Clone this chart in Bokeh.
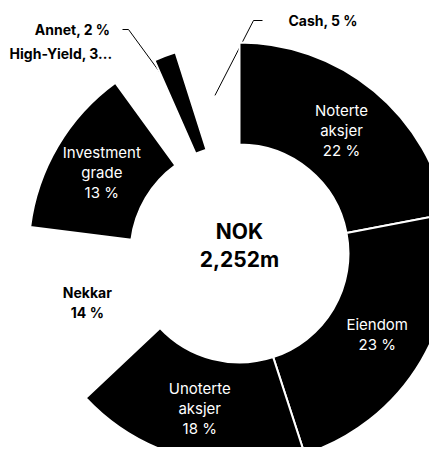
import numpy as np
from bokeh.plotting import figure
from bokeh.models import ColumnDataSource, Range1d
from bokeh.embed import file_html
from bokeh.resources import INLINE
from bokeh.core.properties import value

# ---- data ----
categories = ["Noterte aksjer", "Eiendom", "Unoterte aksjer", "Nekkar",
              "Investment grade", "High-Yield", "Annet", "Cash"]
shares = [22, 23, 18, 14, 13, 3.4, 1.7, 4.9]
colors = ["black", "black", "black", "white", "black", "white", "black", "white"]
inside_label = [True, True, True, True, True, False, False, False]
total_lines = ["NOK", "2,252m"]

# ---- layout ----
W, H = 429, 447
cx, cy = 239, H - 253
r_in, r_out = 109, 211
r_mid = (r_in + r_out) / 2
FONT = "Inter"

p = figure(width=W, height=H, x_range=Range1d(0, W), y_range=Range1d(0, H),
           output_backend="svg", toolbar_location=None, min_border=0,
           x_axis_location=None, y_axis_location=None)
p.grid.visible = False
p.outline_line_color = None
p.background_fill_color = "white"
p.border_fill_color = "white"

vals = np.array(shares, dtype=float)
frac = vals / vals.sum()
th2 = np.cumsum(frac) * 360.0
th1 = th2 - frac * 360.0
thm = (th1 + th2) / 2
alphas = [0.0 if c == "white" else 1.0 for c in colors]

def pct(s):
    return f"{int(np.floor(s + 0.5))} %"

def centroid(i, r=r_mid):
    t = np.radians(thm[i])
    return cx + r * np.sin(t), cy + r * np.cos(t)

def sy(y):
    return H - y

# outer label placement (screen px)
outer_cfg = {
    "Annet": dict(lx=110, ly=29, align="right", elbow=(128, 29), end=(122, 29), line=True),
    "High-Yield": dict(lx=112, ly=53, align="right", elbow=None, end=None, line=False),
    "Cash": dict(lx=288, ly=20, align="left", elbow=(253, 20), end=(262, 20), line=True),
}

# leader lines (drawn under wedges)
lx, ly = [], []
for i, name in enumerate(categories):
    if name in outer_cfg and outer_cfg[name]["line"]:
        c = outer_cfg[name]
        x0, y0 = centroid(i)
        lx.append([x0, c["elbow"][0], c["end"][0]])
        ly.append([y0, sy(c["elbow"][1]), sy(c["end"][1])])
p.multi_line(xs=lx, ys=ly, line_color="black", line_width=1)

src = ColumnDataSource(dict(
    start=np.radians(90 - th2), end=np.radians(90 - th1),
    color=colors, alpha=alphas, name=categories))
p.annular_wedge(x=cx, y=cy, inner_radius=r_in, outer_radius=r_out,
                start_angle="start", end_angle="end", direction="anticlock",
                fill_color="color", fill_alpha="alpha",
                line_color="white", line_alpha="alpha", line_width=2, source=src)

# inside labels
tx, ty, tt, tc, tw, ts = [], [], [], [], [], []
for i, name in enumerate(categories):
    if not inside_label[i]:
        continue
    lines = name.split(" ") + [pct(shares[i])]
    x0, y0 = centroid(i)
    n = len(lines)
    for k, s in enumerate(lines):
        tx.append(x0)
        ty.append(y0 + (n - 1) / 2 * 20 - k * 20)
        tt.append(s)
        dark = colors[i] == "white"
        tc.append("black" if dark else "white")
        tw.append("bold" if dark else "normal")
        ts.append("14px" if dark else "15px")
p.text(x=tx, y=ty, text=tt, text_color=tc, text_font=value(FONT),
       text_font_size=ts, text_font_style=tw,
       text_align="center", text_baseline="middle")

# outer labels
for i, name in enumerate(categories):
    if name not in outer_cfg:
        continue
    c = outer_cfg[name]
    s = f"{name}, {pct(shares[i])}"
    if len(s) > 14:
        s = s[:13] + "..."
    p.text(x=[c["lx"]], y=[sy(c["ly"])], text=[s], text_color="black",
           text_font=value(FONT), text_font_size="14px", text_font_style="bold",
           text_align=c["align"], text_baseline="middle")

# centre total
p.text(x=[cx, cx], y=[cy + 22, cy - 6], text=total_lines, text_color="black",
       text_font=value(FONT), text_font_size="21px", text_font_style="bold",
       text_align="center", text_baseline="middle")

open("out.html", "w").write(file_html(p, INLINE))
